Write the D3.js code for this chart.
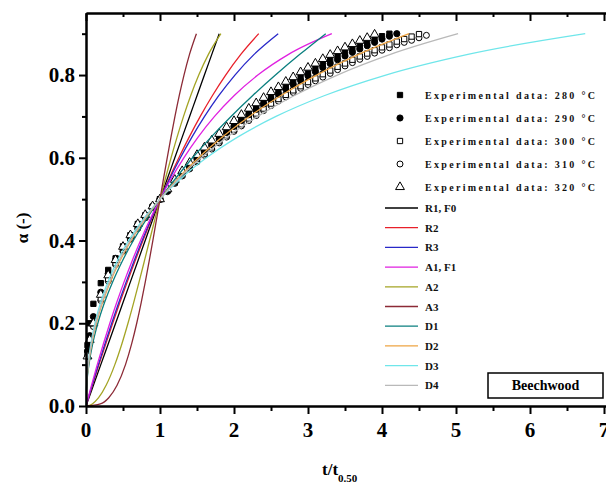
<!DOCTYPE html>
<html>
<head>
<meta charset="utf-8">
<script src="https://cdn.jsdelivr.net/npm/d3@7"></script>
<style>
  body { margin: 0; background: #fff; }
  svg { display: block; }
</style>
</head>
<body>
<div id="chart"></div>
<script>
// conversion grid used by the model curves
const MODEL_ALPHA = [0, 0.005, 0.02, 0.05, 0.1, 0.15, 0.2, 0.25, 0.3, 0.35, 0.4, 0.45, 0.5, 0.55, 0.6, 0.65, 0.7, 0.75, 0.8, 0.85, 0.9];

// t/t0.50 of each kinetic model at MODEL_ALPHA
const R1_F0 = [0, 0.01, 0.04, 0.1, 0.2, 0.3, 0.4, 0.5, 0.6, 0.7, 0.8, 0.9, 1, 1.1, 1.2, 1.3, 1.4, 1.5, 1.6, 1.7, 1.8];
const R2 = [0, 0.0085, 0.0343, 0.0865, 0.1752, 0.2665, 0.3605, 0.4574, 0.5577, 0.6616, 0.7696, 0.8822, 1, 1.1239, 1.2549, 1.3943, 1.5442, 1.7071, 1.8874, 2.0919, 2.3345];
const R3 = [0, 0.0081, 0.0325, 0.0822, 0.1673, 0.2556, 0.3475, 0.4432, 0.5434, 0.6484, 0.7589, 0.8758, 1, 1.1328, 1.2758, 1.4313, 1.6024, 1.7937, 2.0126, 2.2718, 2.5974];
const A1_F1 = [0, 0.0072, 0.0291, 0.074, 0.152, 0.2345, 0.3219, 0.415, 0.5146, 0.6215, 0.737, 0.8625, 1, 1.152, 1.3219, 1.5146, 1.737, 2.0, 2.3219, 2.737, 3.3219];
const A2 = [0, 0.085, 0.1706, 0.272, 0.3899, 0.4843, 0.5674, 0.6442, 0.7174, 0.7884, 0.8585, 0.9287, 1, 1.0733, 1.1497, 1.2307, 1.318, 1.4142, 1.5238, 1.6544, 1.8226];
const A3 = [0, 0.1934, 0.3076, 0.4198, 0.5337, 0.6167, 0.6854, 0.7459, 0.8013, 0.8534, 0.9033, 0.9519, 1, 1.0483, 1.0975, 1.1484, 1.2021, 1.2599, 1.3242, 1.3988, 1.4921];
const D1 = [0, 0.0001, 0.0016, 0.01, 0.04, 0.09, 0.16, 0.25, 0.36, 0.49, 0.64, 0.81, 1, 1.21, 1.44, 1.69, 1.96, 2.25, 2.56, 2.89, 3.24];
const D2 = [0, 0.0001, 0.0013, 0.0083, 0.0337, 0.0773, 0.14, 0.2232, 0.328, 0.4562, 0.6094, 0.7899, 1, 1.2428, 1.5218, 1.8417, 2.2083, 2.6295, 3.1163, 3.6854, 4.3652];
const D3 = [0, 0.0001, 0.0011, 0.0068, 0.028, 0.0653, 0.1207, 0.1965, 0.2953, 0.4204, 0.576, 0.767, 1, 1.2832, 1.6276, 2.0485, 2.5676, 3.2173, 4.0505, 5.161, 6.7464];
const D4 = [0, 0.0001, 0.0012, 0.0077, 0.0317, 0.073, 0.1333, 0.2139, 0.3167, 0.4441, 0.5981, 0.7823, 1, 1.2555, 1.556, 1.9074, 2.321, 2.8102, 3.3965, 4.1144, 5.028];

const MODEL_NAMES = ['R1, F0', 'R2', 'R3', 'A1, F1', 'A2', 'A3', 'D1', 'D2', 'D3', 'D4'];
const MODEL_COLORS = ['#000000', '#e8202a', '#2828c8', '#e020e0', '#a4a424', '#8c2a36', '#0a7f7f', '#eea443', '#6fe6ea', '#b9b9b9'];
const MODEL_T = [R1_F0, R2, R3, A1_F1, A2, A3, D1, D2, D3, D4];

// experimental points: sampling times (t/t0.50) and conversion per temperature
const EXP_TIME = [0.02, 0.05, 0.1, 0.2, 0.3, 0.4, 0.5, 0.6, 0.7, 0.8, 0.9, 1.0, 1.1, 1.2, 1.3, 1.4, 1.5, 1.6, 1.7, 1.8, 1.9, 2.0, 2.1, 2.2, 2.3, 2.4, 2.5, 2.6, 2.7, 2.8, 2.9, 3.0, 3.1, 3.2, 3.3, 3.4, 3.5, 3.6, 3.7, 3.8, 3.9, 4.0, 4.1, 4.2, 4.3, 4.4, 4.5, 4.6];
const A_280 = [0.147, 0.2, 0.247, 0.297, 0.329, 0.357, 0.386, 0.413, 0.44, 0.461, 0.482, 0.5, 0.522, 0.544, 0.564, 0.582, 0.6, 0.617, 0.633, 0.649, 0.665, 0.68, 0.695, 0.709, 0.723, 0.736, 0.749, 0.761, 0.772, 0.783, 0.794, 0.805, 0.816, 0.826, 0.836, 0.845, 0.855, 0.863, 0.871, 0.879, 0.887, 0.894, 0.9];
const A_290 = [0.133, 0.17, 0.216, 0.275, 0.32, 0.353, 0.383, 0.411, 0.437, 0.459, 0.482, 0.5, 0.52, 0.542, 0.562, 0.58, 0.598, 0.615, 0.631, 0.646, 0.661, 0.676, 0.69, 0.704, 0.717, 0.73, 0.742, 0.754, 0.766, 0.777, 0.787, 0.798, 0.808, 0.818, 0.828, 0.837, 0.846, 0.855, 0.863, 0.871, 0.879, 0.887, 0.894, 0.9];
const A_300 = [0.126, 0.16, 0.2, 0.26, 0.307, 0.345, 0.377, 0.405, 0.432, 0.456, 0.48, 0.5, 0.52, 0.54, 0.558, 0.576, 0.593, 0.609, 0.625, 0.64, 0.654, 0.668, 0.681, 0.695, 0.707, 0.719, 0.731, 0.742, 0.752, 0.763, 0.773, 0.783, 0.792, 0.802, 0.811, 0.82, 0.828, 0.837, 0.845, 0.852, 0.86, 0.867, 0.874, 0.881, 0.887, 0.893, 0.899];
const A_310 = [0.12, 0.15, 0.192, 0.255, 0.302, 0.342, 0.374, 0.403, 0.429, 0.455, 0.48, 0.5, 0.518, 0.538, 0.556, 0.573, 0.59, 0.606, 0.621, 0.636, 0.65, 0.664, 0.677, 0.69, 0.702, 0.714, 0.726, 0.737, 0.747, 0.758, 0.768, 0.777, 0.786, 0.795, 0.804, 0.813, 0.822, 0.83, 0.838, 0.845, 0.853, 0.86, 0.866, 0.873, 0.879, 0.884, 0.89, 0.896];
const A_320 = [0.12, 0.16, 0.2, 0.269, 0.316, 0.353, 0.385, 0.413, 0.44, 0.462, 0.483, 0.5, 0.524, 0.547, 0.568, 0.588, 0.607, 0.625, 0.642, 0.658, 0.674, 0.689, 0.704, 0.719, 0.732, 0.745, 0.759, 0.771, 0.784, 0.795, 0.807, 0.818, 0.828, 0.839, 0.849, 0.858, 0.867, 0.875, 0.883, 0.89, 0.898];
const EXP_TEMPS = ['280', '290', '300', '310', '320'];
const EXP_A = [A_280, A_290, A_300, A_310, A_320];

const X_TICKS = [0, 1, 2, 3, 4, 5, 6, 7];
const X_MINOR = [0.5, 1.5, 2.5, 3.5, 4.5, 5.5, 6.5];
const Y_TICKS = [0, 0.2, 0.4, 0.6, 0.8];
const Y_MINOR = [0.1, 0.3, 0.5, 0.7, 0.9];

const WIDTH = 606;
const HEIGHT = 484;
const PLOT = { LEFT: 86, TOP: 13, BOTTOM: 406, RIGHT: 607.7 };
const SERIF = '"Liberation Serif", "Times New Roman", serif';

const xScale = d3.scaleLinear().domain([0, 7.05]).range([PLOT.LEFT, PLOT.RIGHT]);
const yScale = d3.scaleLinear().domain([0, 0.95]).range([PLOT.BOTTOM, PLOT.TOP]);

const svg = d3.select('#chart').append('svg').attr('width', WIDTH).attr('height', HEIGHT);

// marker shapes: filled square, filled circle, open square, open circle, open triangle
const MARKERS = [
  { type: d3.symbolSquare, size: 28, fill: '#000' },
  { type: d3.symbolCircle, size: 30, fill: '#000' },
  { type: d3.symbolSquare, size: 28, fill: '#fff' },
  { type: d3.symbolCircle, size: 28, fill: '#fff' },
  { type: d3.symbolTriangle, size: 34, fill: '#fff' },
];

const drawMarker = (g, m, x, y) => {
  g.append('path')
    .attr('transform', 'translate(' + x + ',' + y + ')')
    .attr('d', d3.symbol().type(m.type).size(m.size)())
    .attr('fill', m.fill)
    .attr('stroke', '#000')
    .attr('stroke-width', 1);
};

const plot = svg.append('g');

// experimental data first (open markers underneath), model lines on top
[3, 2, 1, 0, 4].forEach((i) => {
  const g = plot.append('g');
  EXP_A[i].forEach((a, j) => drawMarker(g, MARKERS[i], xScale(EXP_TIME[j]), yScale(a)));
});

const line = d3
  .line()
  .x((d) => xScale(d.t))
  .y((d) => yScale(d.a))
  .curve(d3.curveMonotoneX);

MODEL_T.forEach((ts, i) => {
  plot
    .append('path')
    .datum(ts.map((t, j) => ({ t: t, a: MODEL_ALPHA[j] })))
    .attr('fill', 'none')
    .attr('stroke', MODEL_COLORS[i])
    .attr('stroke-width', 1.3)
    .attr('d', line);
});

// axes: ticks out on bottom/left, in on top
const styleAxis = (g) => {
  g.selectAll('path').attr('stroke', '#000').attr('stroke-width', 2);
  g.selectAll('line').attr('stroke', '#000').attr('stroke-width', 2);
  g.selectAll('text').remove();
};

const addAxis = (axis, transform) => {
  svg.append('g').attr('transform', transform).call(axis).call(styleAxis);
};

addAxis(d3.axisBottom(xScale).tickValues(X_TICKS).tickSizeInner(8).tickSizeOuter(0), 'translate(0,' + PLOT.BOTTOM + ')');
addAxis(d3.axisBottom(xScale).tickValues(X_MINOR).tickSizeInner(5).tickSizeOuter(0), 'translate(0,' + PLOT.BOTTOM + ')');
addAxis(d3.axisTop(xScale).tickValues(X_TICKS).tickSizeInner(-8).tickSizeOuter(0), 'translate(0,' + PLOT.TOP + ')');
addAxis(d3.axisTop(xScale).tickValues(X_MINOR).tickSizeInner(-4).tickSizeOuter(0), 'translate(0,' + PLOT.TOP + ')');
addAxis(d3.axisLeft(yScale).tickValues(Y_TICKS).tickSizeInner(7).tickSizeOuter(0), 'translate(' + PLOT.LEFT + ',0)');
addAxis(d3.axisLeft(yScale).tickValues(Y_MINOR).tickSizeInner(4).tickSizeOuter(0), 'translate(' + PLOT.LEFT + ',0)');

// tick labels
svg.append('g')
  .selectAll('text')
  .data(X_TICKS)
  .join('text')
  .attr('x', (d) => xScale(d))
  .attr('y', 437)
  .attr('text-anchor', 'middle')
  .attr('font-family', SERIF)
  .attr('font-weight', 'bold')
  .attr('font-size', 21)
  .text((d) => d);

svg.append('g')
  .selectAll('text')
  .data(Y_TICKS)
  .join('text')
  .attr('x', 75)
  .attr('y', (d) => yScale(d) + 7)
  .attr('text-anchor', 'end')
  .attr('font-family', SERIF)
  .attr('font-weight', 'bold')
  .attr('font-size', 21)
  .text((d) => d.toFixed(1));

// axis titles
const xTitle = svg.append('text')
  .attr('x', 322)
  .attr('y', 475)
  .attr('font-family', SERIF)
  .attr('font-weight', 'bold')
  .attr('font-size', 17);
xTitle.append('tspan').text('t/t');
xTitle.append('tspan').attr('dy', 7).attr('font-size', 11).text('0.50');

svg.append('text')
  .attr('transform', 'translate(28,228) rotate(-90)')
  .attr('text-anchor', 'middle')
  .attr('font-family', SERIF)
  .attr('font-weight', 'bold')
  .attr('font-size', 17)
  .text('α (-)');

// legend
const legend = svg.append('g').attr('font-family', SERIF).attr('font-weight', 'bold').attr('fill', '#111');
EXP_TEMPS.forEach((temp, i) => {
  const y = 95 + i * 23;
  drawMarker(legend, MARKERS[i], 400, y);
  legend.append('text')
    .attr('x', 425)
    .attr('y', y + 3.5)
    .attr('font-size', 10)
    .attr('textLength', 170)
    .attr('lengthAdjust', 'spacing')
    .text('Experimental data: ' + temp + ' °C');
});
MODEL_NAMES.forEach((name, i) => {
  const y = 208 + i * 19.7;
  legend.append('line')
    .attr('x1', 385).attr('x2', 418)
    .attr('y1', y).attr('y2', y)
    .attr('stroke', MODEL_COLORS[i])
    .attr('stroke-width', 1.3);
  legend.append('text')
    .attr('x', 425)
    .attr('y', y + 4)
    .attr('font-size', 11)
    .text(name);
});

// sample label box
svg.append('rect')
  .attr('x', 488).attr('y', 373)
  .attr('width', 115).attr('height', 25)
  .attr('fill', '#fff')
  .attr('stroke', '#000')
  .attr('stroke-width', 1.5);
svg.append('text')
  .attr('x', 545.5).attr('y', 390)
  .attr('text-anchor', 'middle')
  .attr('font-family', SERIF)
  .attr('font-weight', 'bold')
  .attr('font-size', 14)
  .text('Beechwood');
</script>
</body>
</html>
